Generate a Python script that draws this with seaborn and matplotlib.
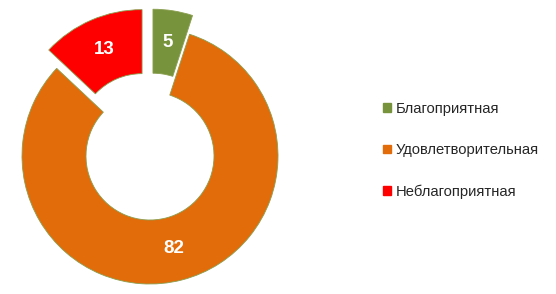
import matplotlib
matplotlib.use("Agg")
import matplotlib.pyplot as plt
import seaborn as sns
from matplotlib.patches import Patch

categories = ["Благоприятная", "Удовлетворительная", "Неблагоприятная"]
values = [5, 82, 13]
colors = ["#77933C", "#E36C0A", "#FF0000"]
explode_px = [19, 0, 20]

sns.set_theme(style="white")
plt.rcParams['font.family'] = ['Liberation Sans', 'DejaVu Sans']

W, H = 556, 294
fig = plt.figure(figsize=(W / 100, H / 100), dpi=100)
ax = fig.add_axes([0, 0, 1, 1])
R = 128
center = (150, H - 156)
total = sum(values)
palette = sns.color_palette(colors)
wedges, texts, autotexts = ax.pie(
    values, colors=palette, startangle=90, counterclock=False,
    explode=explode_px, radius=R, center=center,
    autopct=lambda p: f"{p * total / 100:.0f}", pctdistance=0.75,
    wedgeprops=dict(width=R / 2, edgecolor="#8A9F4F", linewidth=0.6),
    textprops=dict(color="white", fontsize=13.5, fontweight="bold"))
ax.set_xlim(0, W)
ax.set_ylim(0, H)
ax.set_aspect('auto')
ax.axis('off')

handles = [Patch(facecolor=c, edgecolor=c) for c in palette]
fig.legend(handles, categories, loc='upper left',
           bbox_to_anchor=(383 / W, 1 - 102 / H), frameon=False,
           fontsize=10.6, handlelength=0.55, handleheight=0.55,
           handletextpad=0.3, labelspacing=1.85, borderaxespad=0,
           borderpad=0)

fig.savefig("out.png", dpi=100, facecolor="white")
